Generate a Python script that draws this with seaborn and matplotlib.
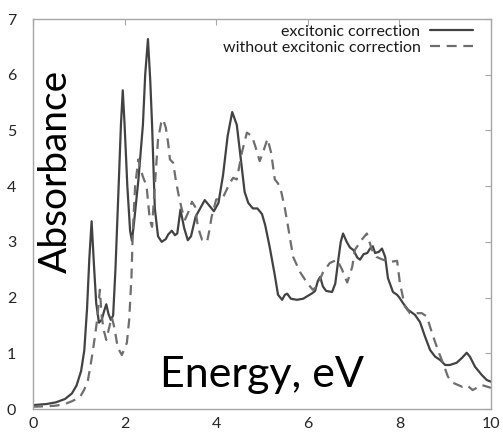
import matplotlib
matplotlib.use("Agg")
import matplotlib.pyplot as plt
import seaborn as sns
import pandas as pd

# ============================================================
# DATA
# ============================================================

energy_exc = [0.0, 0.3, 0.5, 0.7, 0.85, 0.95, 1.05, 1.12, 1.18, 1.23, 1.28, 1.33, 1.38,
              1.44, 1.5, 1.55, 1.6, 1.65, 1.7, 1.75, 1.8, 1.87, 1.92, 1.96, 2.0, 2.06,
              2.12, 2.16, 2.2, 2.3, 2.4, 2.45, 2.51, 2.56, 2.6, 2.66, 2.73, 2.81, 2.9,
              2.95, 3.03, 3.1, 3.15, 3.22, 3.3, 3.38, 3.45, 3.55, 3.65, 3.75, 3.85,
              3.95, 4.05, 4.15, 4.25, 4.35, 4.45, 4.55, 4.62, 4.7, 4.8, 4.9, 5.0,
              5.07, 5.17, 5.28, 5.35, 5.44, 5.5, 5.55, 5.63, 5.76, 5.9, 5.98, 6.1,
              6.16, 6.22, 6.27, 6.33, 6.4, 6.53, 6.6, 6.67, 6.72, 6.77, 6.85, 6.92,
              7.0, 7.08, 7.14, 7.22, 7.3, 7.36, 7.42, 7.47, 7.55, 7.62, 7.69, 7.75,
              7.86, 7.95, 8.0, 8.08, 8.19, 8.34, 8.45, 8.56, 8.67, 8.78, 8.89, 9.0,
              9.1, 9.25, 9.37, 9.47, 9.54, 9.65, 9.8, 9.91, 10.0]
absorb_exc = [0.07, 0.09, 0.12, 0.18, 0.28, 0.42, 0.68, 1.05, 1.8, 2.7, 3.37, 2.6, 1.9,
              1.55, 1.6, 1.75, 1.88, 1.7, 1.6, 1.68, 2.5, 4.0, 5.1, 5.72, 5.1, 4.0,
              3.2, 3.02, 3.3, 4.1, 5.1, 6.0, 6.64, 5.9, 5.1, 3.6, 3.1, 3.0, 3.05,
              3.13, 3.2, 3.12, 3.15, 3.58, 3.25, 3.03, 3.1, 3.45, 3.6, 3.75, 3.65,
              3.55, 3.7, 4.2, 4.9, 5.33, 5.1, 4.4, 3.9, 3.7, 3.6, 3.6, 3.5,
              3.3, 2.9, 2.4, 2.05, 1.96, 2.05, 2.07, 1.98, 1.96, 1.98, 2.02, 2.08,
              2.12, 2.3, 2.37, 2.2, 2.12, 2.1, 2.25, 2.7, 3.0, 3.15, 3.0, 2.9,
              2.85, 2.72, 2.68, 2.78, 2.8, 2.88, 2.92, 2.8, 2.82, 2.88, 2.73, 2.35,
              2.1, 2.05, 2.0, 1.9, 1.78, 1.69, 1.56, 1.3, 1.06, 0.94, 0.88, 0.79,
              0.79, 0.83, 0.92, 1.01, 0.94, 0.76, 0.61, 0.52, 0.49]

energy_noexc = [0.0, 0.3, 0.5, 0.7, 0.85, 0.95, 1.03, 1.12, 1.2, 1.26, 1.31, 1.36, 1.4,
                1.46, 1.5, 1.55, 1.6, 1.66, 1.72, 1.78, 1.85, 1.94, 2.05, 2.1, 2.15,
                2.18, 2.23, 2.3, 2.35, 2.4, 2.48, 2.55, 2.6, 2.66, 2.73, 2.8, 2.84,
                2.9, 2.95, 2.99, 3.06, 3.12, 3.17, 3.25, 3.32, 3.4, 3.47, 3.54, 3.6,
                3.69, 3.8, 3.85, 3.9, 4.0, 4.15, 4.3, 4.37, 4.45, 4.56, 4.67, 4.78,
                4.86, 4.95, 5.02, 5.12, 5.2, 5.28, 5.35, 5.42, 5.5, 5.57, 5.68, 5.83,
                5.98, 6.11, 6.2, 6.33, 6.48, 6.64, 6.75, 6.86, 6.97, 7.03, 7.18, 7.29,
                7.4, 7.5, 7.64, 7.8, 7.95, 8.01, 8.12, 8.23, 8.49, 8.6, 8.71, 8.84,
                8.95, 9.06, 9.17, 9.37, 9.47, 9.6, 9.8, 10.0]
absorb_noexc = [0.04, 0.05, 0.06, 0.09, 0.14, 0.18, 0.22, 0.35, 0.52, 0.8, 1.06, 1.35, 1.6,
                2.14, 1.66, 1.4, 1.24, 1.45, 1.65, 1.45, 1.1, 0.97, 1.19, 1.6, 2.37,
                3.2, 4.0, 4.48, 4.3, 4.17, 4.0, 3.4, 3.27, 4.0, 4.84, 5.14, 5.2,
                5.05, 4.78, 4.48, 4.42, 4.1, 3.88, 3.58, 3.4, 3.55, 3.72, 3.63, 3.27,
                3.04, 3.0, 3.2, 3.45, 3.76, 3.8, 4.06, 4.15, 4.12, 4.6, 4.96, 4.9,
                4.7, 4.45, 4.6, 4.85, 4.6, 4.12, 4.05, 3.9, 3.6, 3.27, 2.73, 2.46,
                2.27, 2.14, 2.2, 2.45, 2.62, 2.68, 2.5, 2.27, 2.55, 2.86, 3.04, 3.15,
                2.86, 2.73, 2.68, 2.64, 2.66, 2.27, 1.84, 1.72, 1.72, 1.66, 1.37, 1.06,
                0.83, 0.58, 0.47, 0.4, 0.43, 0.34, 0.43, 0.38]

x_ticks = [0, 2, 4, 6, 8, 10]
y_ticks = [0, 1, 2, 3, 4, 5, 6, 7]

df_exc = pd.DataFrame({"Energy": energy_exc, "Absorbance": absorb_exc})
df_noexc = pd.DataFrame({"Energy": energy_noexc, "Absorbance": absorb_noexc})

# ============================================================
# STYLE
# ============================================================

sns.set_style("white")
plt.rcParams["font.family"] = ["Lato", "DejaVu Sans"]

SOLID_COLOR = "#424242"
DASH_COLOR = "#6e6e6e"
FRAME_COLOR = "#a6a6a6"

fig = plt.figure(figsize=(5.03, 4.33), dpi=100)
ax = fig.add_axes([0.0656, 0.0554, 0.9105, 0.9007])

sns.lineplot(data=df_exc, x="Energy", y="Absorbance", ax=ax, sort=False,
             color=SOLID_COLOR, linewidth=1.6, label="excitonic correction")
sns.lineplot(data=df_noexc, x="Energy", y="Absorbance", ax=ax, sort=False,
             color=DASH_COLOR, linewidth=1.6, dashes=False,
             label="without excitonic correction")
ax.lines[1].set_dashes((4.5, 3))

ax.set_xlim(0, 10)
ax.set_ylim(0, 7)
ax.set_xticks(x_ticks)
ax.set_yticks(y_ticks)
ax.set_xlabel("")
ax.set_ylabel("")

for s in ax.spines.values():
    s.set_color(FRAME_COLOR)
    s.set_linewidth(1.0)

ax.tick_params(direction="in", top=True, right=True, length=4, width=0.8,
               color=FRAME_COLOR, labelsize=11.5, labelcolor="#262626")
ax.tick_params(axis="x", pad=6)
ax.tick_params(axis="y", pad=12)

leg = ax.legend(loc="upper right", bbox_to_anchor=(0.961, 0.985), frameon=False,
                markerfirst=False, fontsize=11.5, handlelength=2.7,
                handletextpad=0.6, labelspacing=0.1, borderpad=0, borderaxespad=0)
for t in leg.get_texts():
    t.set_color("#1a1a1a")

# In-plot axis titles
ax.text(0.05, 0.61, "Absorbance", transform=ax.transAxes, rotation=90,
        ha="center", va="center", fontsize=28, color="black")
ax.text(0.277, 0.056, "Energy, eV", transform=ax.transAxes,
        ha="left", va="baseline", fontsize=31, color="black")

plt.savefig("out.png", dpi=100)
